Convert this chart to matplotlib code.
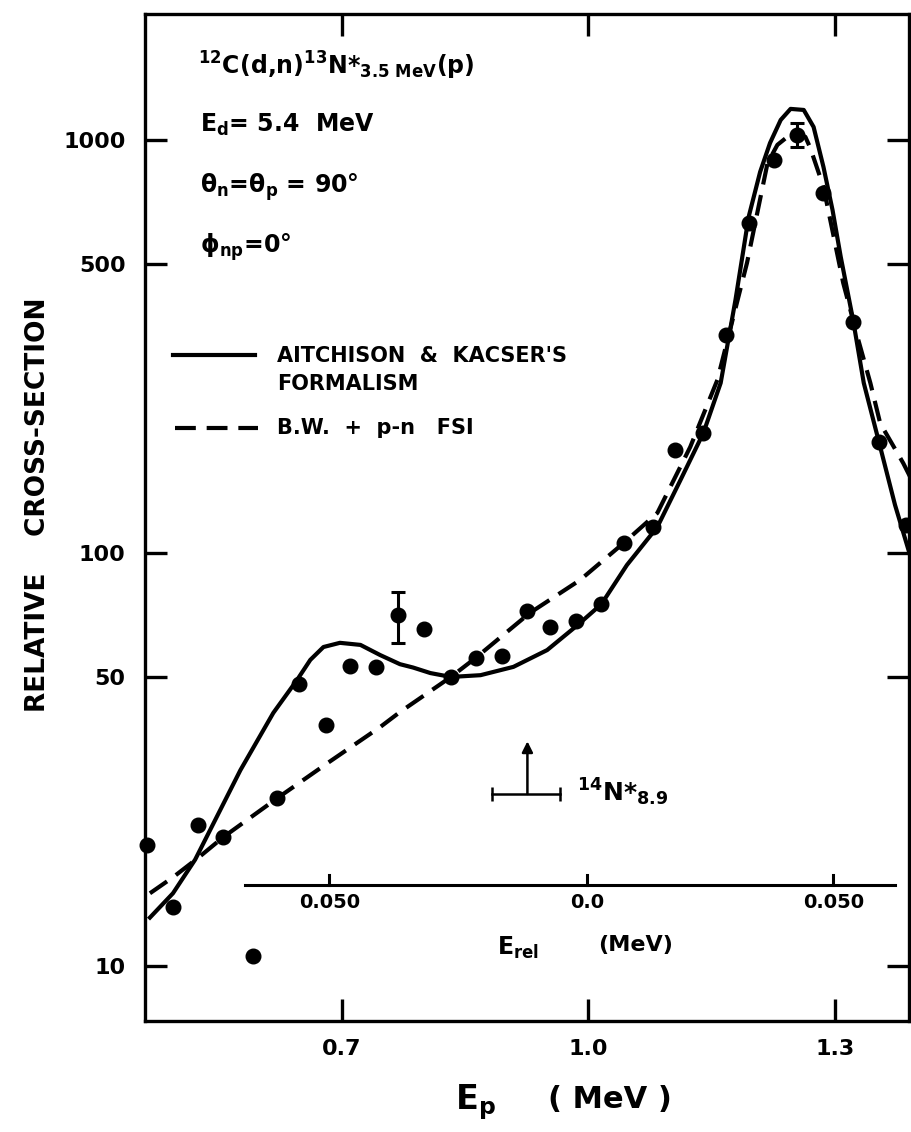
import matplotlib.pyplot as plt
from matplotlib.lines import Line2D

plt.rcParams['font.family'] = ['DejaVu Sans']
plt.rcParams['font.weight'] = 'bold'
plt.rcParams['mathtext.fontset'] = 'dejavusans'
plt.rcParams['mathtext.default'] = 'bf'

# measured points
ep = [0.464, 0.495, 0.526, 0.556, 0.592, 0.622, 0.648, 0.681, 0.710, 0.742,
      0.800, 0.833, 0.863, 0.895, 0.925, 0.954, 0.985, 1.016, 1.043, 1.079,
      1.106, 1.140, 1.167, 1.195, 1.226, 1.286, 1.322, 1.353, 1.386]
sigma = [19.6, 13.9, 21.9, 20.5, 10.6, 25.5, 48.2, 38.3, 53.2, 53.0,
         65.5, 50.1, 55.7, 56.3, 72.4, 66.2, 68.4, 75.2, 105.7, 115.6,
         177.6, 195.3, 337.2, 629.6, 894.5, 744.0, 362.5, 185.7, 116.9]

# points carrying error bars
ep_err = [0.769, 1.254]
sigma_err = [70.8, 1028.0]
err_lo = [10.2, 66.0]
err_hi = [9.6, 72.0]

# Aitchison & Kacser formalism (solid)
ak_x = [0.467, 0.495, 0.522, 0.577, 0.617, 0.646, 0.662, 0.678, 0.698, 0.723,
        0.747, 0.771, 0.787, 0.808, 0.833, 0.869, 0.909, 0.950, 0.987, 1.016,
        1.047, 1.084, 1.112, 1.140, 1.161, 1.179, 1.195, 1.209, 1.221, 1.234,
        1.246, 1.262, 1.274, 1.286, 1.297, 1.307, 1.322, 1.335, 1.355, 1.373,
        1.393]
ak_y = [13.1, 15.0, 18.1, 29.8, 41.0, 49.3, 55.1, 59.2, 60.6, 59.9,
        56.6, 53.8, 52.8, 51.2, 50.1, 50.6, 53.0, 58.2, 66.9, 75.2,
        93.5, 115.6, 150.0, 195.3, 258.0, 410.0, 651.0, 837.0, 983.0, 1118.0,
        1189.0, 1182.0, 1075.0, 860.0, 677.0, 521.0, 366.6, 258.0, 180.6, 130.7,
        96.2]

# B.W. + p-n FSI (dashed)
bw_x = [0.467, 0.495, 0.526, 0.556, 0.622, 0.683, 0.747, 0.771, 0.833, 0.863,
        0.929, 0.990, 1.043, 1.084, 1.124, 1.157, 1.193, 1.218, 1.230, 1.242,
        1.254, 1.264, 1.270, 1.286, 1.310, 1.328, 1.343, 1.355, 1.383, 1.392]
bw_y = [15.0, 16.4, 18.3, 20.5, 25.5, 31.0, 37.9, 41.2, 50.1, 55.7,
        71.6, 86.0, 105.7, 125.0, 180.6, 262.4, 503.7, 879.6, 973.0, 1017.0,
        1040.0, 1017.0, 956.0, 769.5, 450.6, 330.0, 258.0, 206.0, 165.0, 152.0]

yticks = [10, 50, 100, 500, 1000]
xticks = [0.7, 1.0, 1.3]

# inner E_rel scale (positions on the E_p axis)
erel_pos = [0.685, 0.999, 1.298]
erel_lab = ['0.050', '0.0', '0.050']
erel_span = [0.583, 1.373]
erel_level = 15.7

W, H = 911, 1132


def fx(px):
    return px / W


def fy(py):
    return 1 - py / H


fig = plt.figure(figsize=(W / 100, H / 100), dpi=100)
ax = fig.add_axes([fx(145), fy(1021), fx(909) - fx(145), fy(14) - fy(1021)])
ax.set_yscale('log')
ax.set_xlim(0.461, 1.390)
ax.set_ylim(7.36, 2018)

ax.plot(ak_x, ak_y, color='k', lw=3.0, solid_joinstyle='round')
ax.plot(bw_x, bw_y, color='k', lw=3.0, dashes=(5, 2.6))
ax.plot(ep, sigma, 'o', color='k', ms=10.5, clip_on=False)
ax.errorbar(ep_err, sigma_err, yerr=[err_lo, err_hi], fmt='o', color='k',
            ms=10.5, lw=2.2, capsize=5, capthick=2.2)

for s in ax.spines.values():
    s.set_linewidth(2.4)

ax.set_yticks(yticks)
ax.set_yticklabels([str(v) for v in yticks])
ax.minorticks_off()
ax.set_xticks(xticks)
ax.set_xticklabels(['0.7', '1.0', '1.3'])
ax.tick_params(axis='both', direction='in', length=16, width=2.4,
               labelsize=16, top=True, right=True)
ax.tick_params(axis='y', pad=14)
ax.tick_params(axis='x', pad=13)

# E_rel scale inside the plot
ax.plot(erel_span, [erel_level, erel_level], color='k', lw=2.2)
for p, lab in zip(erel_pos, erel_lab):
    ax.plot([p, p], [erel_level, erel_level * 1.06], color='k', lw=2.2)
    ax.text(p, erel_level * 0.955, lab, ha='center', va='top', fontsize=14)
fig.text(fx(497), fy(948), r'E$_{rel}$', fontsize=17, va='center')
fig.text(fx(598), fy(945), '(MeV)', fontsize=16, va='center')

# 14N* 8.9 marker
ax.plot([0.883, 0.966], [26.1, 26.1], color='k', lw=1.8)
ax.plot([0.883, 0.966], [26.1, 26.1], '|', color='k', ms=10, mew=1.8)
ax.annotate('', xy=(0.926, 35.0), xytext=(0.926, 26.1),
            arrowprops=dict(arrowstyle='-|>', lw=1.8, color='k',
                            mutation_scale=16, shrinkA=0, shrinkB=0))
fig.text(fx(577), fy(792), r'$^{14}$N*$_{8.9}$', fontsize=18, va='center')

# labels at the top left
fig.text(fx(198), fy(75), r'$^{12}$C(d,n)$^{13}$N*$_{3.5\ MeV}$(p)',
         fontsize=17, va='baseline')
fig.text(fx(200), fy(132), r'E$_{d}$= 5.4  MeV', fontsize=17, va='baseline')
fig.text(fx(200), fy(193), r'$\theta_{n}$=$\theta_{p}$ = 90$\degree$',
         fontsize=17, va='baseline')
fig.text(fx(200), fy(253), r'$\phi_{np}$=0$\degree$', fontsize=17,
         va='baseline')

# hand-drawn legend
fig.add_artist(Line2D([fx(173), fx(255)], [fy(355), fy(355)], color='k',
                      lw=3.0, transform=fig.transFigure))
fig.add_artist(Line2D([fx(175), fx(258)], [fy(428), fy(428)], color='k',
                      lw=3.0, dashes=(5, 2.6), transform=fig.transFigure))
fig.text(fx(277), fy(356), "AITCHISON  &  KACSER'S", fontsize=15,
         va='center')
fig.text(fx(277), fy(384), 'FORMALISM', fontsize=15, va='center')
fig.text(fx(277), fy(428), 'B.W.  +  p-n   FSI', fontsize=15, va='center')

# axis titles
fig.text(fx(38), fy(505), 'RELATIVE    CROSS-SECTION', rotation=90,
         fontsize=19, ha='center', va='center')
fig.text(fx(455), fy(1102), r'E$_{p}$', fontsize=24, va='center')
fig.text(fx(548), fy(1100), '( MeV )', fontsize=22, va='center')

fig.savefig('out.png', dpi=100)
